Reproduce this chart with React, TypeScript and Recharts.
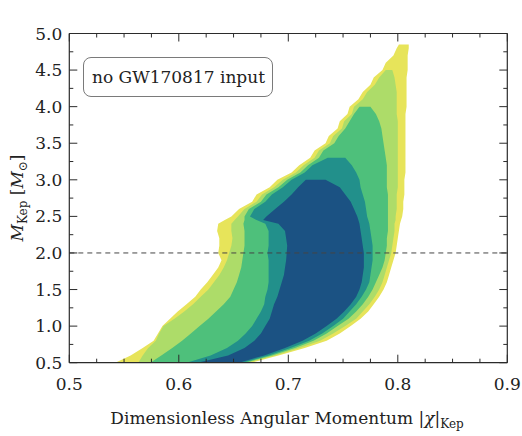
import React from 'react';
import { ComposedChart, Area, XAxis, YAxis, ReferenceLine } from 'recharts';

// Keplerian mass grid (M_Kep in solar masses)
const M_GRID = [0.5, 0.6, 0.7, 0.8, 0.9, 1.0, 1.1, 1.2, 1.3, 1.4, 1.5, 1.6, 1.7, 1.8, 1.9, 2.0, 2.1, 2.2, 2.3, 2.4, 2.45,
  2.5, 2.6, 2.7, 2.8, 2.9, 3.0, 3.1, 3.2, 3.3, 3.4, 3.5, 3.6, 3.7, 3.8, 3.9, 4.0, 4.1, 4.2, 4.3, 4.4, 4.5, 4.6, 4.7, 4.8, 4.85];

// Outermost (yellow) credible region: left / right edge in |chi|
const YELLOW_LEFT = [0.542, 0.556, 0.567, 0.577, 0.581, 0.585, 0.592, 0.599, 0.607, 0.615, 0.620, 0.626, 0.631, 0.636, 0.639, 0.636, 0.637, 0.637, 0.635, 0.636, 0.642,
  0.648, 0.655, 0.667, 0.671, 0.683, 0.690, 0.703, 0.710, 0.720, 0.724, 0.734, 0.737, 0.745, 0.747, 0.754, 0.756, 0.764, 0.768, 0.775, 0.778, 0.786, 0.789, 0.796, 0.799, 0.801];
const YELLOW_RIGHT = [0.666, 0.691, 0.715, 0.735, 0.747, 0.757, 0.766, 0.773, 0.778, 0.783, 0.787, 0.790, 0.792, 0.794, 0.796, 0.798, 0.799, 0.800, 0.801, 0.802, 0.803,
  0.804, 0.805, 0.805, 0.806, 0.806, 0.806, 0.807, 0.807, 0.807, 0.807, 0.807, 0.807, 0.807, 0.807, 0.807, 0.808, 0.808, 0.808, 0.808, 0.808, 0.809, 0.809, 0.809, 0.810, 0.810];

const LIGHT_LEFT = [0.563, 0.567, 0.572, 0.579, 0.582, 0.586, 0.596, 0.605, 0.613, 0.620, 0.627, 0.632, 0.637, 0.641, 0.644, 0.646, 0.648, 0.649, 0.648, 0.648, 0.651,
  0.654, 0.660, 0.671, 0.676, 0.687, 0.695, 0.707, 0.714, 0.724, 0.728, 0.738, 0.741, 0.749, 0.751, 0.758, 0.760, 0.768, 0.772, 0.779, 0.783, 0.789, null, null, null, null];
const LIGHT_RIGHT = [0.663, 0.688, 0.710, 0.729, 0.741, 0.752, 0.762, 0.768, 0.774, 0.779, 0.783, 0.786, 0.788, 0.790, 0.792, 0.794, 0.795, 0.796, 0.797, 0.797, 0.798,
  0.798, 0.799, 0.799, 0.799, 0.800, 0.800, 0.800, 0.800, 0.800, 0.800, 0.800, 0.800, 0.800, 0.800, 0.799, 0.799, 0.799, 0.799, 0.798, 0.797, 0.795, null, null, null, null];

const GREEN_LEFT = [0.574, 0.584, 0.594, 0.603, 0.611, 0.619, 0.627, 0.634, 0.641, 0.647, 0.650, 0.653, 0.655, 0.657, 0.658, 0.659, 0.660, 0.660, 0.660, 0.659, 0.660,
  0.660, 0.664, 0.675, 0.680, 0.691, 0.699, 0.711, 0.718, 0.728, 0.732, 0.742, 0.746, 0.752, 0.756, 0.760, 0.765, null, null, null, null, null, null, null, null, null];
const GREEN_RIGHT = [0.661, 0.685, 0.706, 0.723, 0.735, 0.745, 0.755, 0.762, 0.768, 0.773, 0.777, 0.780, 0.783, 0.786, 0.788, 0.789, 0.790, 0.790, 0.791, 0.791, 0.791,
  0.791, 0.791, 0.791, 0.791, 0.790, 0.790, 0.790, 0.790, 0.789, 0.788, 0.787, 0.786, 0.785, 0.783, 0.780, 0.775, null, null, null, null, null, null, null, null, null];

const TEAL_LEFT = [0.607, 0.629, 0.644, 0.654, 0.661, 0.667, 0.671, 0.675, 0.678, 0.679, 0.681, 0.682, 0.682, 0.682, 0.682, 0.681, 0.682, 0.682, 0.682, 0.679, 0.671,
  0.665, 0.669, 0.679, 0.685, 0.695, 0.703, 0.715, 0.722, 0.736, null, null, null, null, null, null, null, null, null, null, null, null, null, null, null, null];
const TEAL_RIGHT = [0.658, 0.682, 0.702, 0.719, 0.731, 0.741, 0.750, 0.756, 0.762, 0.767, 0.771, 0.774, 0.775, 0.776, 0.777, 0.777, 0.777, 0.776, 0.775, 0.774, 0.773,
  0.772, 0.771, 0.770, 0.768, 0.766, 0.765, 0.762, 0.758, 0.752, null, null, null, null, null, null, null, null, null, null, null, null, null, null, null, null];

const BLUE_LEFT = [0.617, 0.645, 0.660, 0.669, 0.675, 0.679, 0.683, 0.685, 0.687, 0.690, 0.692, 0.694, 0.696, 0.697, 0.698, 0.6985, 0.699, 0.698, 0.697, 0.691, 0.677,
  0.680, 0.688, 0.696, 0.703, 0.709, 0.716, null, null, null, null, null, null, null, null, null, null, null, null, null, null, null, null, null, null, null];
const BLUE_RIGHT = [0.655, 0.678, 0.697, 0.713, 0.725, 0.735, 0.744, 0.751, 0.757, 0.762, 0.765, 0.767, 0.768, 0.769, 0.769, 0.769, 0.768, 0.767, 0.766, 0.765, 0.764,
  0.763, 0.760, 0.757, 0.752, 0.747, 0.734, null, null, null, null, null, null, null, null, null, null, null, null, null, null, null, null, null, null, null];

const X_TICKS = [0.5, 0.525, 0.55, 0.575, 0.6, 0.625, 0.65, 0.675, 0.7, 0.725, 0.75, 0.775, 0.8, 0.825, 0.85, 0.875, 0.9];
const Y_TICKS = [0.5, 0.75, 1.0, 1.25, 1.5, 1.75, 2.0, 2.25, 2.5, 2.75, 3.0, 3.25, 3.5, 3.75, 4.0, 4.25, 4.5, 4.75, 5.0];
const REF_MASS = 2.0;
const ANNOTATION = 'no GW170817 input';

const pair = (a: number | null, b: number | null) => (a == null || b == null ? null : [a, b]);

const rows = M_GRID.map((m, i) => ({
  m,
  y: pair(YELLOW_LEFT[i], YELLOW_RIGHT[i]),
  l: pair(LIGHT_LEFT[i], LIGHT_RIGHT[i]),
  g: pair(GREEN_LEFT[i], GREEN_RIGHT[i]),
  t: pair(TEAL_LEFT[i], TEAL_RIGHT[i]),
  b: pair(BLUE_LEFT[i], BLUE_RIGHT[i]),
}));

const FONT = '"DejaVu Serif", serif';
const AX = '#2b2b2b';
const MAJ = 8;
const MIN = 4;

const isMajor = (v: number, step: number) => {
  const r = v / step;
  return Math.abs(r - Math.round(r)) < 1e-6;
};

const BottomTick = (p: any) => {
  const v = p.payload.value;
  const major = isMajor(v, 0.1);
  return (
    <g>
      <line x1={p.x} x2={p.x} y1={p.y} y2={p.y - (major ? MAJ : MIN)} stroke={AX} strokeWidth={1} />
      {major && (
        <text x={p.x} y={p.y + 27} textAnchor="middle" fontFamily={FONT} fontSize={17} fill="#222">
          {v.toFixed(1)}
        </text>
      )}
    </g>
  );
};
const TopTick = (p: any) => {
  const major = isMajor(p.payload.value, 0.1);
  return <line x1={p.x} x2={p.x} y1={p.y} y2={p.y + (major ? MAJ : MIN)} stroke={AX} strokeWidth={1} />;
};
const LeftTick = (p: any) => {
  const v = p.payload.value;
  const major = isMajor(v, 0.5);
  return (
    <g>
      <line x1={p.x} x2={p.x + (major ? MAJ : MIN)} y1={p.y} y2={p.y} stroke={AX} strokeWidth={1} />
      {major && (
        <text x={p.x - 7} y={p.y + 6} textAnchor="end" fontFamily={FONT} fontSize={17} fill="#222">
          {v.toFixed(1)}
        </text>
      )}
    </g>
  );
};
const RightTick = (p: any) => {
  const major = isMajor(p.payload.value, 0.5);
  return <line x1={p.x} x2={p.x - (major ? MAJ : MIN)} y1={p.y} y2={p.y} stroke={AX} strokeWidth={1} />;
};

export default function App() {
  return (
    <div style={{ position: 'absolute', left: 0, top: 0, width: 522, height: 436, background: '#fff' }}>
      <ComposedChart
        width={522}
        height={436}
        layout="vertical"
        data={rows}
        margin={{ top: 32.5, right: 13.7, bottom: 72.3, left: 68.3 }}
      >
        <Area dataKey="y" fill="#e7e45a" fillOpacity={1} stroke="none" isAnimationActive={false} dot={false} activeDot={false} />
        <Area dataKey="l" fill="#addc69" fillOpacity={1} stroke="none" isAnimationActive={false} dot={false} activeDot={false} />
        <Area dataKey="g" fill="#4ec07b" fillOpacity={1} stroke="none" isAnimationActive={false} dot={false} activeDot={false} />
        <Area dataKey="t" fill="#22908b" fillOpacity={1} stroke="none" isAnimationActive={false} dot={false} activeDot={false} />
        <Area dataKey="b" fill="#1b5283" fillOpacity={1} stroke="none" isAnimationActive={false} dot={false} activeDot={false} />
        <ReferenceLine y={REF_MASS} stroke="#444" strokeDasharray="5 4" strokeWidth={1} />
        <XAxis
          type="number"
          domain={[0.5, 0.9]}
          ticks={X_TICKS}
          interval={0}
          allowDataOverflow
          height={1}
          tickSize={0}
          tickMargin={0}
          tickLine={false}
          tick={<BottomTick />}
          axisLine={{ stroke: AX, strokeWidth: 1.2 }}
        />
        <XAxis
          xAxisId="top"
          orientation="top"
          type="number"
          domain={[0.5, 0.9]}
          ticks={X_TICKS}
          interval={0}
          allowDataOverflow
          height={1}
          tickSize={0}
          tickMargin={0}
          tickLine={false}
          tick={<TopTick />}
          axisLine={{ stroke: AX, strokeWidth: 1.2 }}
        />
        <YAxis
          type="number"
          dataKey="m"
          domain={[0.5, 5.0]}
          ticks={Y_TICKS}
          interval={0}
          reversed
          allowDataOverflow
          width={1}
          tickSize={0}
          tickMargin={0}
          tickLine={false}
          tick={<LeftTick />}
          axisLine={{ stroke: AX, strokeWidth: 1.2 }}
        />
        <YAxis
          yAxisId="r"
          orientation="right"
          type="number"
          dataKey="m"
          domain={[0.5, 5.0]}
          ticks={Y_TICKS}
          interval={0}
          reversed
          allowDataOverflow
          width={1}
          tickSize={0}
          tickMargin={0}
          tickLine={false}
          tick={<RightTick />}
          axisLine={{ stroke: AX, strokeWidth: 1.2 }}
        />
      </ComposedChart>
      <svg width={522} height={436} style={{ position: 'absolute', left: 0, top: 0, pointerEvents: 'none' }}>
        <text x={287} y={424} textAnchor="middle" fontFamily={FONT} fontSize={17} fill="#222">
          Dimensionless Angular Momentum |<tspan fontStyle="italic">χ</tspan>|
          <tspan fontSize={12} dy={4}>Kep</tspan>
        </text>
        <text transform="translate(23,198) rotate(-90)" textAnchor="middle" fontFamily={FONT} fontSize={17} fill="#222">
          <tspan fontStyle="italic">M</tspan>
          <tspan fontSize={12} dy={4}>Kep</tspan>
          <tspan dy={-4}> [</tspan>
          <tspan fontStyle="italic">M</tspan>
          <tspan fontSize={12} dy={4}>⊙</tspan>
          <tspan dy={-4}>]</tspan>
        </text>
      </svg>
      <div
        style={{
          position: 'absolute',
          left: 83,
          top: 57,
          width: 190,
          height: 40,
          boxSizing: 'border-box',
          border: '1px solid #7a7a7a',
          borderRadius: 8,
          background: '#fff',
          display: 'flex',
          alignItems: 'center',
          paddingLeft: 8,
          fontFamily: FONT,
          fontSize: 17,
          color: '#222',
          whiteSpace: 'nowrap',
        }}
      >
        {ANNOTATION}
      </div>
    </div>
  );
}
